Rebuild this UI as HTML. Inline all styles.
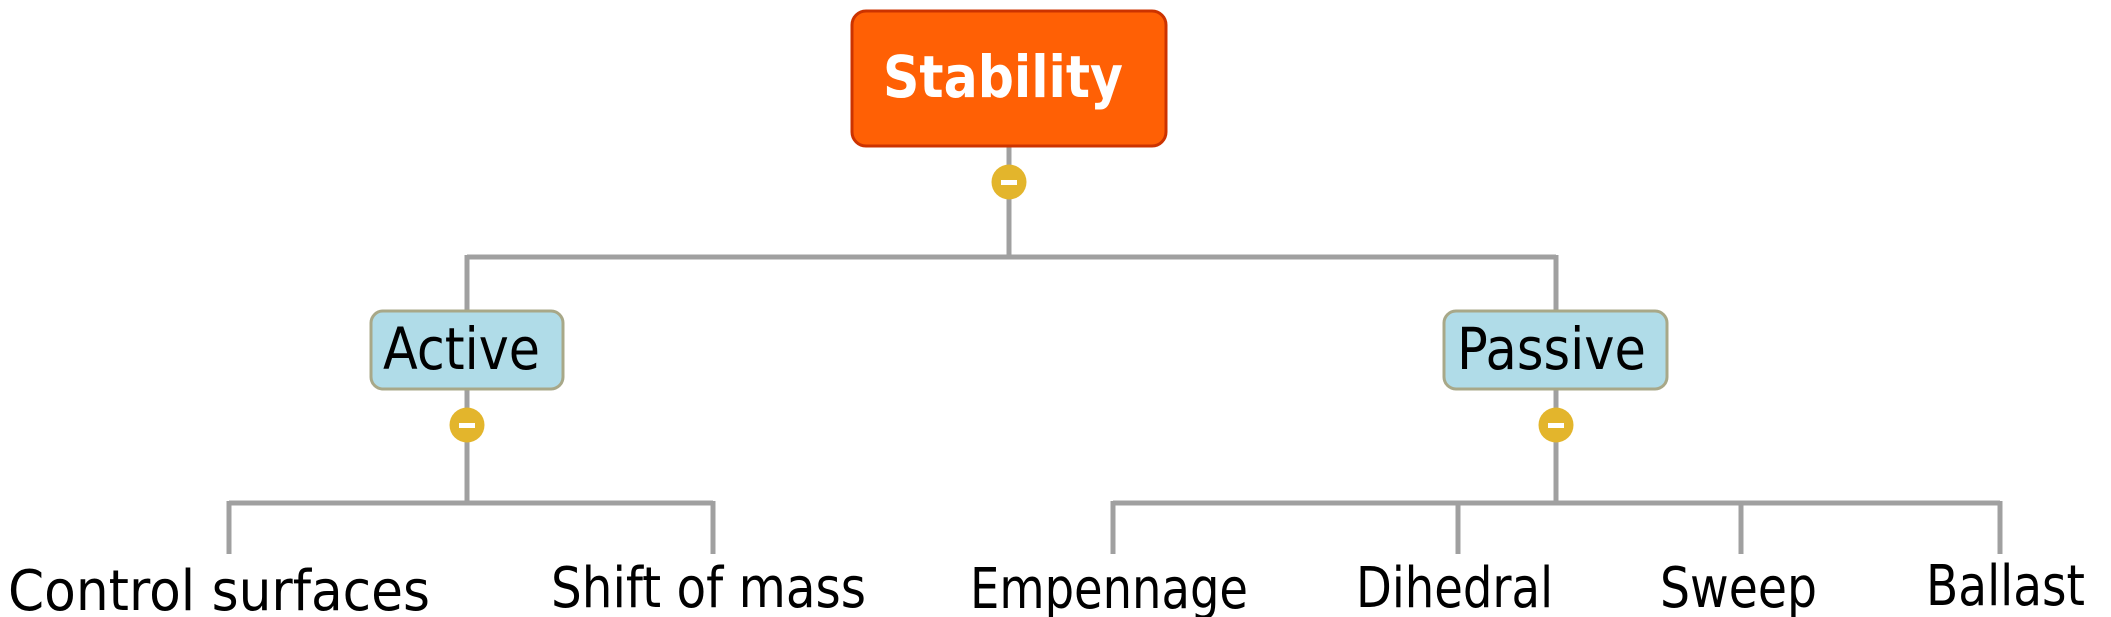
<!DOCTYPE html>
<html><head><meta charset="utf-8"><style>
html,body{margin:0;padding:0;background:#fff;width:2111px;height:617px;overflow:hidden}
svg{display:block}
text{font-family:"DejaVu Sans","Liberation Sans",sans-serif}
</style></head><body>
<svg width="2111" height="617" viewBox="0 0 2111 617" xmlns="http://www.w3.org/2000/svg">
<g stroke="#a0a0a0" stroke-width="5" fill="none">
<line x1="1009" y1="147" x2="1009" y2="257"/>
<line x1="467" y1="257" x2="1556" y2="257"/>
<line x1="467" y1="255" x2="467" y2="311"/>
<line x1="1556" y1="255" x2="1556" y2="311"/>
<line x1="467" y1="390" x2="467" y2="503"/>
<line x1="1556" y1="390" x2="1556" y2="503"/>
<line x1="229" y1="503" x2="713" y2="503"/>
<line x1="229" y1="501" x2="229" y2="554"/>
<line x1="713" y1="501" x2="713" y2="554"/>
<line x1="1113" y1="503" x2="2000" y2="503"/>
<line x1="1113" y1="501" x2="1113" y2="554"/>
<line x1="1458" y1="501" x2="1458" y2="554"/>
<line x1="1741" y1="501" x2="1741" y2="554"/>
<line x1="2000" y1="501" x2="2000" y2="554"/>
</g>
<rect x="852" y="11" width="314" height="135" rx="14" fill="#ff6005" stroke="#cc3300" stroke-width="3"/>
<text x="883" y="97" font-size="58" font-weight="bold" fill="#fff" textLength="240" lengthAdjust="spacingAndGlyphs">Stability</text>
<rect x="371" y="311" width="192" height="78" rx="12" fill="#b0dce8" stroke="#a8a888" stroke-width="3"/>
<text x="383" y="369" font-size="58" fill="#000" textLength="157" lengthAdjust="spacingAndGlyphs">Active</text>
<rect x="1444" y="311" width="223" height="78" rx="12" fill="#b0dce8" stroke="#a8a888" stroke-width="3"/>
<text x="1457" y="369" font-size="58" fill="#000" textLength="189" lengthAdjust="spacingAndGlyphs">Passive</text>
<g fill="#e3b52c">
<circle cx="1009" cy="182" r="17.5"/>
<circle cx="467" cy="425" r="17.5"/>
<circle cx="1556" cy="425" r="17.5"/>
</g>
<g fill="#fff">
<rect x="1001" y="180" width="16" height="5"/>
<rect x="459" y="423" width="16" height="5"/>
<rect x="1548" y="423" width="16" height="5"/>
</g>
<g font-size="56" fill="#000">
<text x="8" y="610" textLength="422" lengthAdjust="spacingAndGlyphs">Control surfaces</text>
<text x="551" y="607" textLength="315" lengthAdjust="spacingAndGlyphs">Shift of mass</text>
<text x="970" y="608" textLength="278" lengthAdjust="spacingAndGlyphs">Empennage</text>
<text x="1356" y="607" textLength="197" lengthAdjust="spacingAndGlyphs">Dihedral</text>
<text x="1660" y="607" textLength="157" lengthAdjust="spacingAndGlyphs">Sweep</text>
<text x="1926" y="605" textLength="159" lengthAdjust="spacingAndGlyphs">Ballast</text>
</g>
</svg>
</body></html>
